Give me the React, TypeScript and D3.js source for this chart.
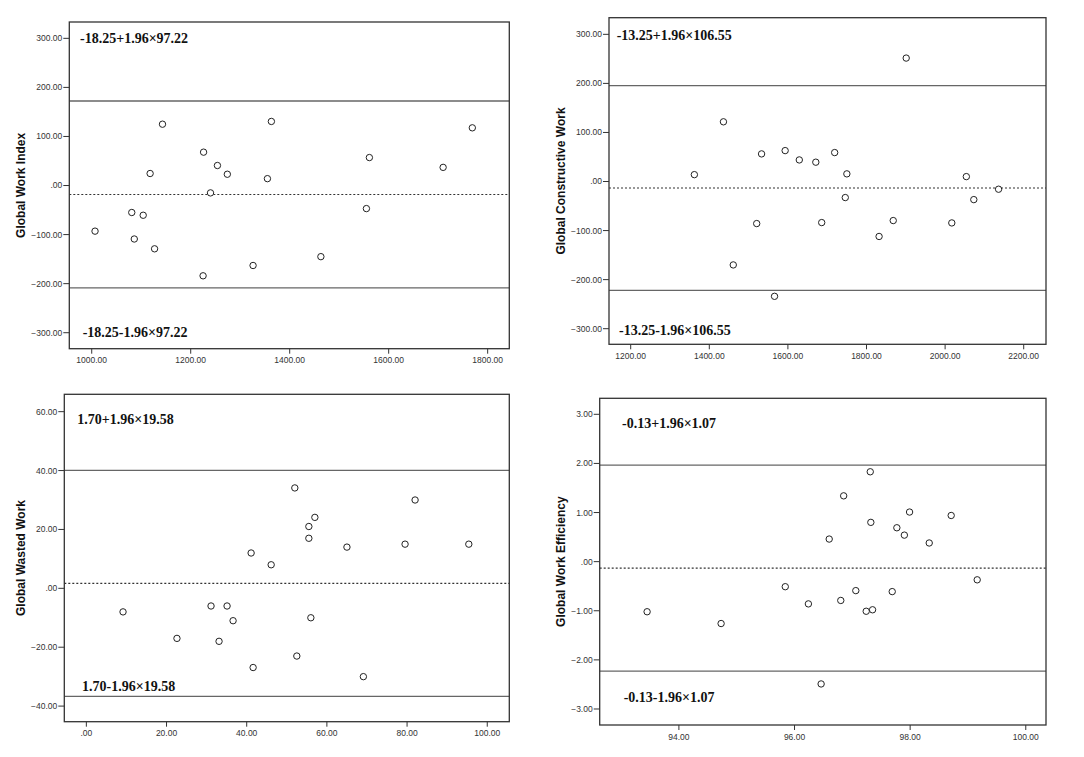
import React from "react";
import * as d3 from "d3";

// ---------- DATA ----------
// Panel 1: Global Work Index (mean on x, difference on y)
const gwiMean = [1006.7, 1080.9, 1086, 1104, 1118, 1127, 1143, 1225, 1226, 1240, 1254, 1274, 1326, 1355, 1363, 1463, 1555, 1561, 1710, 1769];
const gwiDiff = [-93, -55, -109, -60.6, 24.5, -129, 125, -184, 68, -15, 40.8, 23, -163, 14, 130.6, -145, -47, 57, 37, 117.6];

// Panel 2: Global Constructive Work
const gcwMean = [1362, 1436, 1461, 1520.6, 1533, 1566, 1593, 1629, 1671, 1686, 1719, 1746, 1750, 1832, 1868, 1901, 2017, 2054, 2073, 2136];
const gcwDiff = [14, 121.7, -170, -85.7, 56.3, -234, 63, 44, 39.4, -83.7, 59, -32.7, 15.6, -112, -79.6, 251.6, -84.4, 10, -36.9, -15.7];

// Panel 3: Global Wasted Work
const gwwMean = [9.15, 22.6, 31.1, 33.1, 35.1, 36.6, 41.1, 41.6, 46.1, 52.0, 52.5, 55.5, 55.5, 56.0, 57.0, 65.0, 69.1, 79.5, 82.0, 95.4];
const gwwDiff = [-8.0, -17, -6.0, -18, -6.0, -11.0, 12.0, -26.9, 8.0, 34.1, -23.0, 21.0, 17.0, -10.0, 24.1, 14.0, -30.0, 15.0, 30.0, 15.0];

// Panel 4: Global Work Efficiency
const gweMean = [93.45, 94.73, 95.84, 96.24, 96.46, 96.60, 96.80, 96.85, 97.06, 97.24, 97.31, 97.32, 97.35, 97.69, 97.77, 97.90, 97.99, 98.33, 98.71, 99.16];
const gweDiff = [-1.02, -1.26, -0.51, -0.86, -2.49, 0.46, -0.79, 1.34, -0.59, -1.01, 1.83, 0.80, -0.98, -0.61, 0.69, 0.54, 1.01, 0.38, 0.94, -0.37];

// Bias and SD
const biasValues = [-18.25, -13.25, 1.70, -0.13];
const sdValues = [97.22, 106.55, 19.58, 1.07];
const axisLabels = ["Global Work Index", "Global Constructive Work", "Global Wasted Work", "Global Work Efficiency"];

// Tick values
const gwiXTicks = [1000, 1200, 1400, 1600, 1800];
const gcwXTicks = [1200, 1400, 1600, 1800, 2000, 2200];
const gwwXTicks = [0, 20, 40, 60, 80, 100];
const gweXTicks = [94, 96, 98, 100];
const gwiYTicks = [-300, -200, -100, 0, 100, 200, 300];
const gcwYTicks = [-300, -200, -100, 0, 100, 200, 300];
const gwwYTicks = [-40, -20, 0, 20, 40, 60];
const gweYTicks = [-3, -2, -1, 0, 1, 2, 3];

// ---------- LAYOUT ----------
type Panel = {
  frame: { x0: number; x1: number; y0: number; y1: number };
  xDomain: [number, number];
  yDomain: [number, number];
  xs: number[];
  ys: number[];
  xTicks: number[];
  yTicks: number[];
  bias: number;
  sd: number;
  label: string;
  labelX: number;
  upper: { dx: number; dy: number };
  lower: { dx: number; dy: number };
};

const panels: Panel[] = [
  {
    frame: { x0: 69.3, x1: 509.3, y0: 22, y1: 348.7 },
    xDomain: [954.7, 1843.7],
    yDomain: [-332.6, 333.3],
    xs: gwiMean, ys: gwiDiff, xTicks: gwiXTicks, yTicks: gwiYTicks,
    bias: biasValues[0], sd: sdValues[0], label: axisLabels[0], labelX: 25,
    upper: { dx: 10.7, dy: 21.3 }, lower: { dx: 13.4, dy: -11.7 },
  },
  {
    frame: { x0: 609, x1: 1046, y0: 17.7, y1: 344.3 },
    xDomain: [1144.8, 2256.7],
    yDomain: [-331.8, 333.9],
    xs: gcwMean, ys: gcwDiff, xTicks: gcwXTicks, yTicks: gcwYTicks,
    bias: biasValues[1], sd: sdValues[1], label: axisLabels[1], labelX: 565,
    upper: { dx: 7.7, dy: 22.3 }, lower: { dx: 10, dy: -9.3 },
  },
  {
    frame: { x0: 64.3, x1: 509.3, y0: 394.3, y1: 721.7 },
    xDomain: [-5.5, 105.5],
    yDomain: [-45.3, 65.9],
    xs: gwwMean, ys: gwwDiff, xTicks: gwwXTicks, yTicks: gwwYTicks,
    bias: biasValues[2], sd: sdValues[2], label: axisLabels[2], labelX: 25,
    upper: { dx: 13, dy: 30 }, lower: { dx: 17.7, dy: -30.7 },
  },
  {
    frame: { x0: 599.7, x1: 1046, y0: 398.3, y1: 725 },
    xDomain: [92.63, 100.35],
    yDomain: [-3.326, 3.326],
    xs: gweMean, ys: gweDiff, xTicks: gweXTicks, yTicks: gweYTicks,
    bias: biasValues[3], sd: sdValues[3], label: axisLabels[3], labelX: 565,
    upper: { dx: 22.3, dy: 29.4 }, lower: { dx: 24, dy: -22.7 },
  },
];

const fmt = (v: number) => {
  const s = d3.format(".2f")(v);
  return s.replace(/^(-?)0\./, "$1.");
};

const annot = (bias: number, sd: number, sign: string) =>
  `${bias.toFixed(2)}${sign}1.96×${sd.toFixed(2)}`;

function PanelView({ p }: { p: Panel }) {
  const { frame } = p;
  const x = d3.scaleLinear().domain(p.xDomain).range([frame.x0, frame.x1]);
  const y = d3.scaleLinear().domain(p.yDomain).range([frame.y1, frame.y0]);
  const upperV = p.bias + 1.96 * p.sd;
  const lowerV = p.bias - 1.96 * p.sd;
  const midY = (frame.y0 + frame.y1) / 2;
  return (
    <g>
      {/* reference lines */}
      <line x1={frame.x0} x2={frame.x1} y1={y(upperV)} y2={y(upperV)} stroke="#666" strokeWidth={1.3} />
      <line x1={frame.x0} x2={frame.x1} y1={y(lowerV)} y2={y(lowerV)} stroke="#666" strokeWidth={1.3} />
      <line x1={frame.x0} x2={frame.x1} y1={y(p.bias)} y2={y(p.bias)} stroke="#333" strokeWidth={1.2} strokeDasharray="2,2" />
      {/* frame */}
      <rect x={frame.x0} y={frame.y0} width={frame.x1 - frame.x0} height={frame.y1 - frame.y0} fill="none" stroke="#333" strokeWidth={1.3} />
      {/* y ticks */}
      {p.yTicks.map((t) => (
        <g key={"y" + t}>
          <line x1={frame.x0 - 6} x2={frame.x0} y1={y(t)} y2={y(t)} stroke="#333" strokeWidth={1} />
          <text x={frame.x0 - 7} y={y(t)} dy="0.35em" textAnchor="end" fontFamily="Liberation Sans, Arial, sans-serif" fontSize={8.5} fill="#333">
            {fmt(t)}
          </text>
        </g>
      ))}
      {/* x ticks */}
      {p.xTicks.map((t) => (
        <g key={"x" + t}>
          <line x1={x(t)} x2={x(t)} y1={frame.y1} y2={frame.y1 + 5} stroke="#333" strokeWidth={1} />
          <text x={x(t)} y={frame.y1 + 14.5} textAnchor="middle" fontFamily="Liberation Sans, Arial, sans-serif" fontSize={8.5} fill="#333">
            {fmt(t)}
          </text>
        </g>
      ))}
      {/* y axis label */}
      <text
        transform={`translate(${p.labelX},${midY}) rotate(-90)`}
        textAnchor="middle"
        fontFamily="Liberation Sans, Arial, sans-serif"
        fontWeight="bold"
        fontSize={12}
        fill="#111"
      >
        {p.label}
      </text>
      {/* points */}
      {p.xs.map((v, i) => (
        <circle key={i} cx={x(v)} cy={y(p.ys[i])} r={3.2} fill="white" stroke="#222" strokeWidth={1} />
      ))}
      {/* annotations */}
      <text x={frame.x0 + p.upper.dx} y={frame.y0 + p.upper.dy} fontFamily="Liberation Serif, Times New Roman, serif" fontWeight="bold" fontSize={14} fill="#111">
        {annot(p.bias, p.sd, "+")}
      </text>
      <text x={frame.x0 + p.lower.dx} y={frame.y1 + p.lower.dy} fontFamily="Liberation Serif, Times New Roman, serif" fontWeight="bold" fontSize={14} fill="#111">
        {annot(p.bias, p.sd, "-")}
      </text>
    </g>
  );
}

export default function App() {
  return (
    <svg
      width={1084}
      height={757}
      style={{ position: "absolute", left: 0, top: 0, display: "block", background: "white" }}
    >
      <rect x={0} y={0} width={1084} height={757} fill="white" />
      {panels.map((p, i) => (
        <PanelView key={i} p={p} />
      ))}
    </svg>
  );
}
